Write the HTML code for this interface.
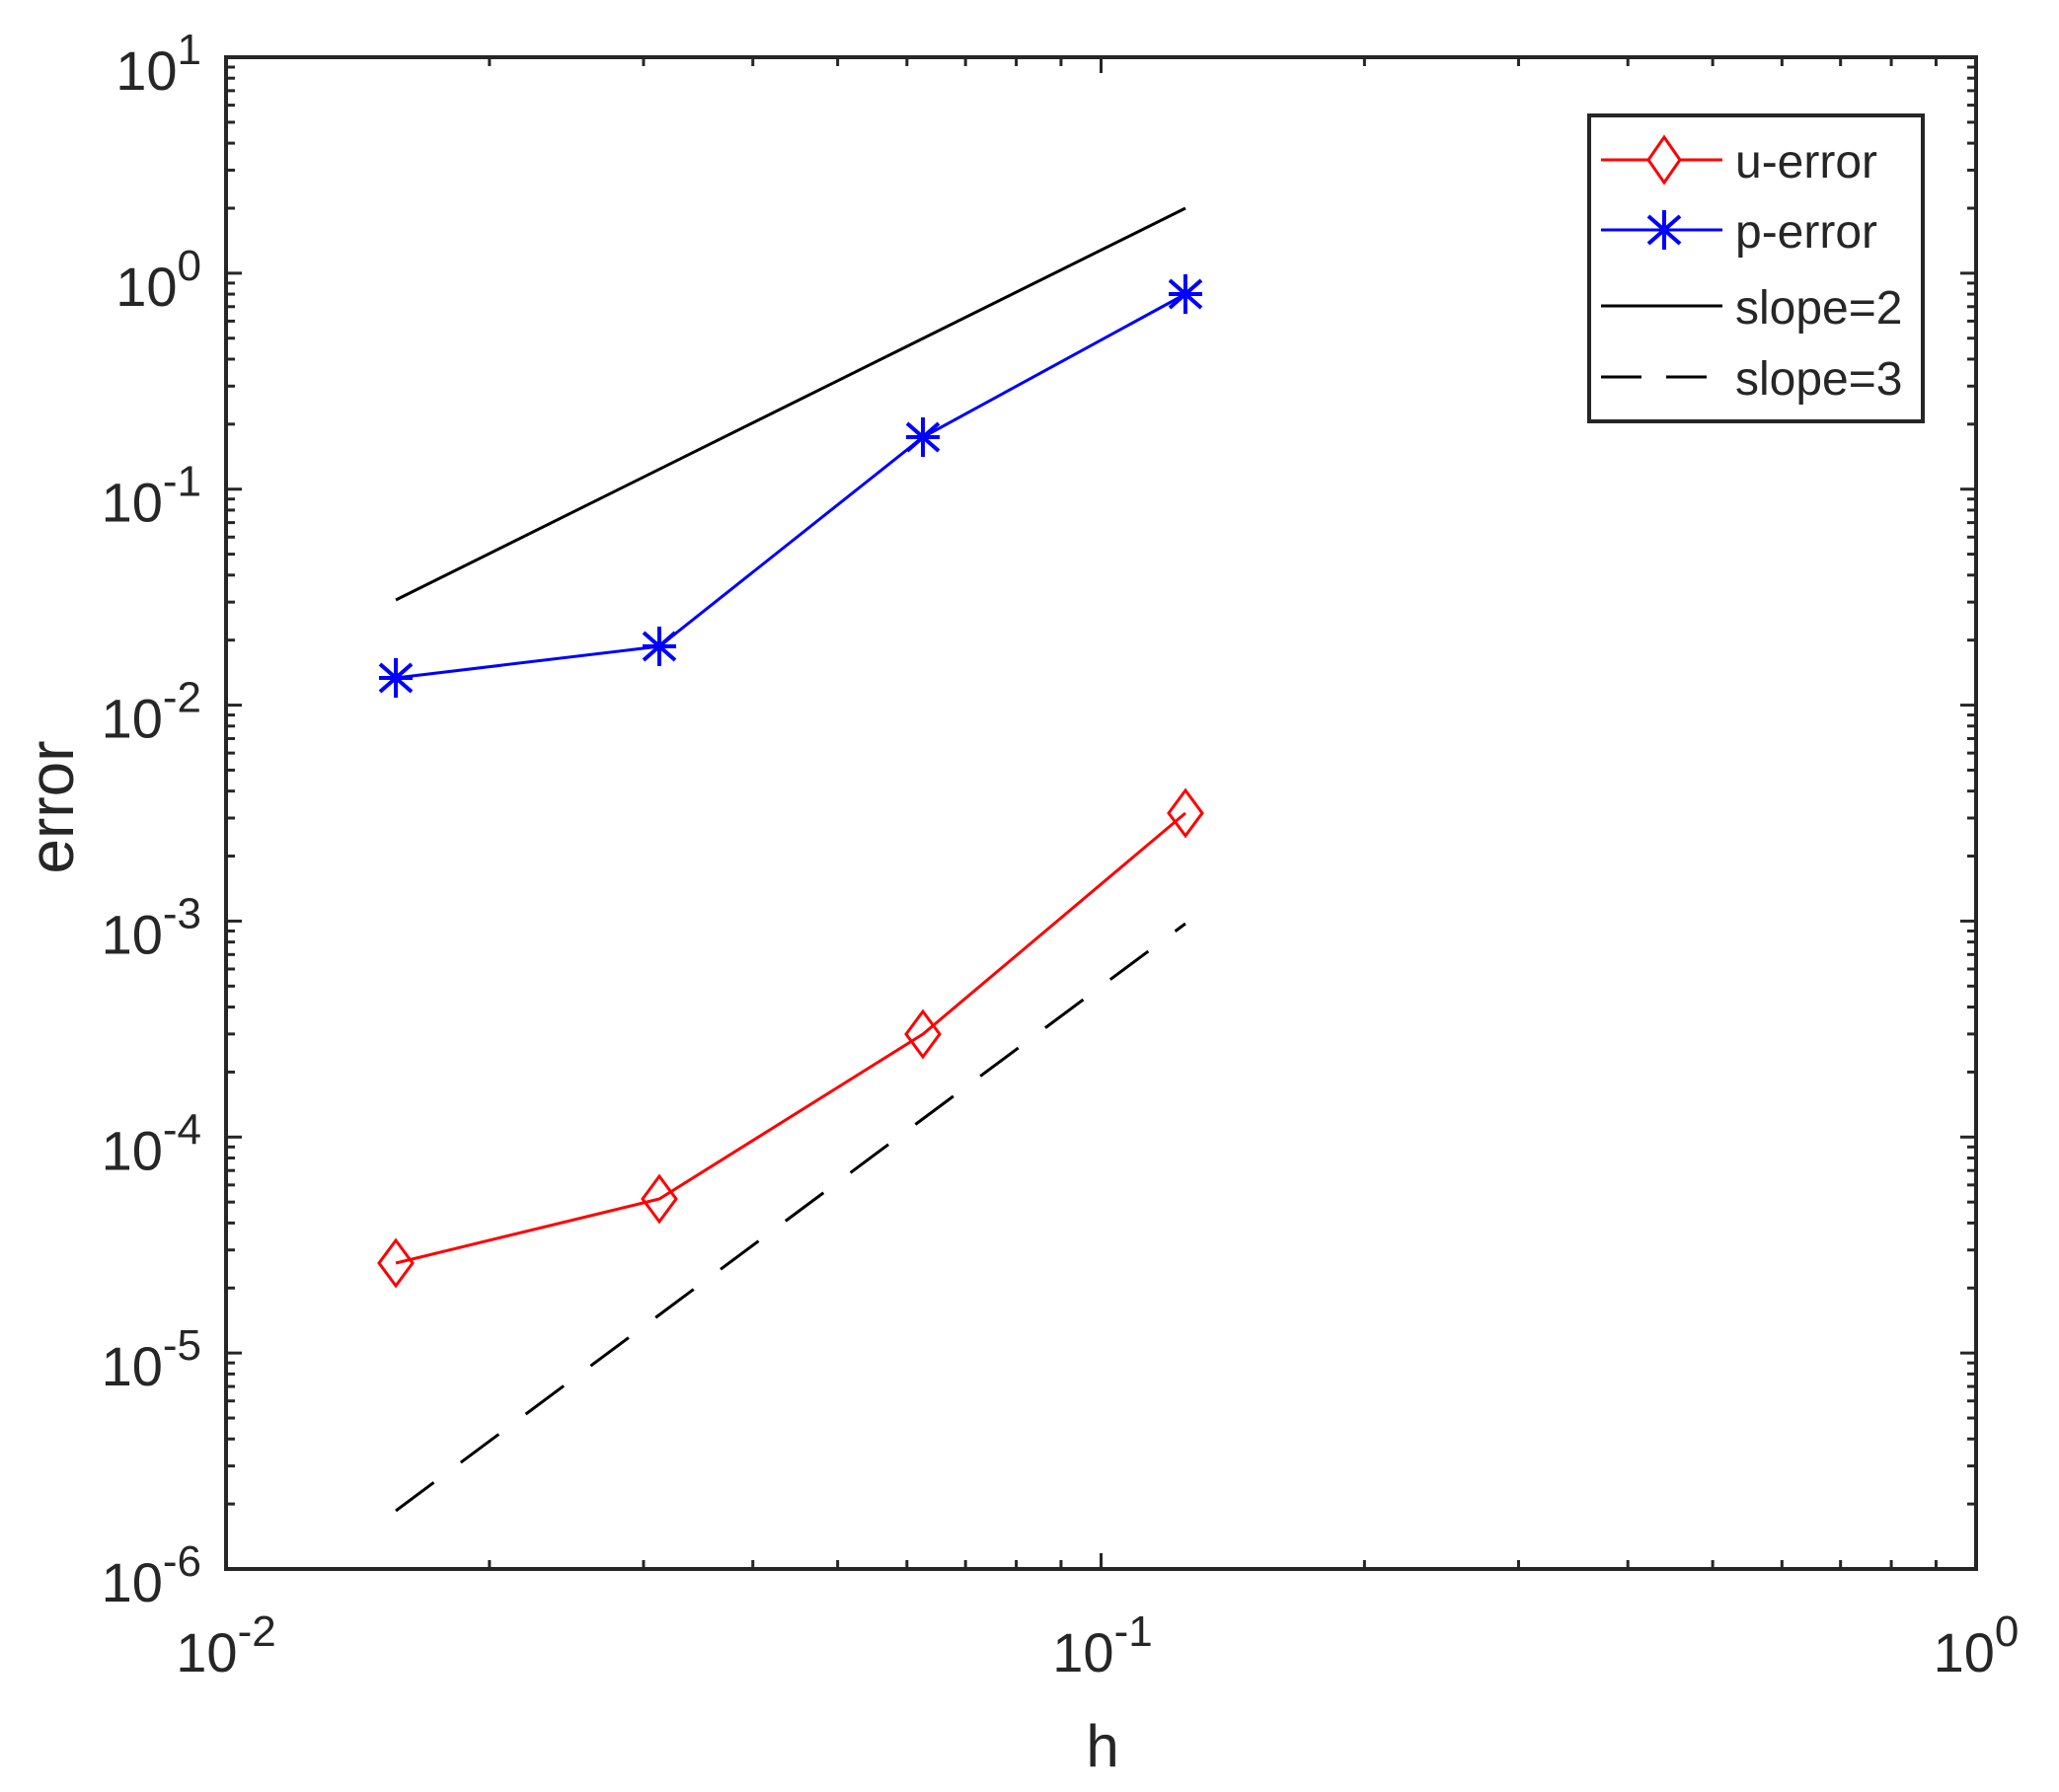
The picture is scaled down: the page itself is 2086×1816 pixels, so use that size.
<!DOCTYPE html>
<html><head><meta charset="utf-8"><style>
html,body{margin:0;padding:0;background:#fff;}
svg{display:block;}
text{font-family:"Liberation Sans",Arial,sans-serif;fill:#262626;}
</style></head><body>
<svg id="s" width="2086" height="1816" viewBox="0 0 2086 1816" xmlns="http://www.w3.org/2000/svg">
<rect width="2086" height="1816" fill="#fff"/>
<g id="ticks" stroke="#262626" stroke-width="3"></g>
<g id="labels"></g>
<!-- slope lines -->
<line x1="401" y1="608" x2="1201" y2="211" stroke="#000" stroke-width="3"/>
<line x1="401" y1="1531" x2="1201" y2="936" stroke="#000" stroke-width="3" stroke-dasharray="48 34"/>
<!-- p-error -->
<polyline points="401,687 668,655 935,443 1201,298" fill="none" stroke="#0000ff" stroke-width="3"/>
<g id="pm" stroke="#0000ff" stroke-width="4"></g>
<!-- u-error -->
<polyline points="401,1280 668,1215 935,1048 1201,824" fill="none" stroke="#ff0000" stroke-width="3"/>
<g id="um" stroke="#ff0000" stroke-width="3" fill="none"></g>
<!-- axes box -->
<rect x="229" y="58" width="1773" height="1532" fill="none" stroke="#262626" stroke-width="4"/>
<!-- legend -->
<rect x="1610" y="117" width="338" height="310" fill="#fff" stroke="#262626" stroke-width="4"/>
<line x1="1622" y1="162" x2="1745" y2="162" stroke="#ff0000" stroke-width="3"/>
<polygon points="1686,139 1702,162 1686,185 1670,162" fill="#fff" stroke="#ff0000" stroke-width="3"/>
<line x1="1622" y1="233" x2="1745" y2="233" stroke="#0000ff" stroke-width="3"/>
<g stroke="#0000ff" stroke-width="4"><line x1="1686" y1="213" x2="1686" y2="253"/><line x1="1670" y1="219" x2="1702" y2="247"/><line x1="1670" y1="247" x2="1702" y2="219"/></g>
<line x1="1622" y1="310" x2="1745" y2="310" stroke="#000" stroke-width="3"/>
<line x1="1622" y1="382" x2="1745" y2="382" stroke="#000" stroke-width="3" stroke-dasharray="41 25"/>
<g font-size="48">
<text x="1758" y="180">u-error</text>
<text x="1758" y="251">p-error</text>
<text x="1758" y="328">slope=2</text>
<text x="1758" y="400">slope=3</text>
</g>
<text x="1117" y="1790" font-size="60" text-anchor="middle">h</text>
<text transform="translate(74,818) rotate(-90)" font-size="64" text-anchor="middle">error</text>
</svg>
<script>
var NS="http://www.w3.org/2000/svg";
var L=229,R=2002,T=58,B=1590,dx=(R-L)/2,dy=(B-T)/7;
var tg=document.getElementById("ticks"),lg=document.getElementById("labels");
function ln(g,x1,y1,x2,y2){var e=document.createElementNS(NS,"line");e.setAttribute("x1",x1);e.setAttribute("y1",y1);e.setAttribute("x2",x2);e.setAttribute("y2",y2);g.appendChild(e);}
function lab(x,y,exp,anchor){var t=document.createElementNS(NS,"text");t.setAttribute("x",x);t.setAttribute("y",y);t.setAttribute("font-size","56");t.setAttribute("text-anchor",anchor);
t.innerHTML='10<tspan font-size="44" dy="-26">'+exp+'</tspan>';lg.appendChild(t);}
for(var d=0;d<2;d++){for(var k=1;k<10;k++){var x=L+dx*(d+Math.log10(k));var len=(k==1)?16:9;ln(tg,x,B,x,B-len);ln(tg,x,T,x,T+len);}}
for(var d=0;d<7;d++){for(var k=1;k<10;k++){var y=B-dy*(d+Math.log10(k));var len=(k==1)?16:9;ln(tg,L,y,L+len,y);ln(tg,R,y,R-len,y);}}
for(var i=0;i<=7;i++){lab(204,T+dy*i+33,i==0?"1":(i==1?"0":"-"+(i-1)),"end");}
lab(229,1694,"-2","middle");lab(1117,1694,"-1","middle");lab(2002,1694,"0","middle");
var pm=document.getElementById("pm");
[[401,687],[668,655],[935,443],[1201,298]].forEach(function(p){ln(pm,p[0],p[1]-20,p[0],p[1]+20);ln(pm,p[0]-16,p[1]-14,p[0]+16,p[1]+14);ln(pm,p[0]-16,p[1]+14,p[0]+16,p[1]-14);ln(pm,p[0]-17,p[1],p[0]+17,p[1]);});
var um=document.getElementById("um");
[[401,1280],[668,1215],[935,1048],[1201,824]].forEach(function(p){var e=document.createElementNS(NS,"polygon");e.setAttribute("points",p[0]+","+(p[1]-23)+" "+(p[0]+17)+","+p[1]+" "+p[0]+","+(p[1]+23)+" "+(p[0]-17)+","+p[1]);um.appendChild(e);});
</script>
</body></html>
